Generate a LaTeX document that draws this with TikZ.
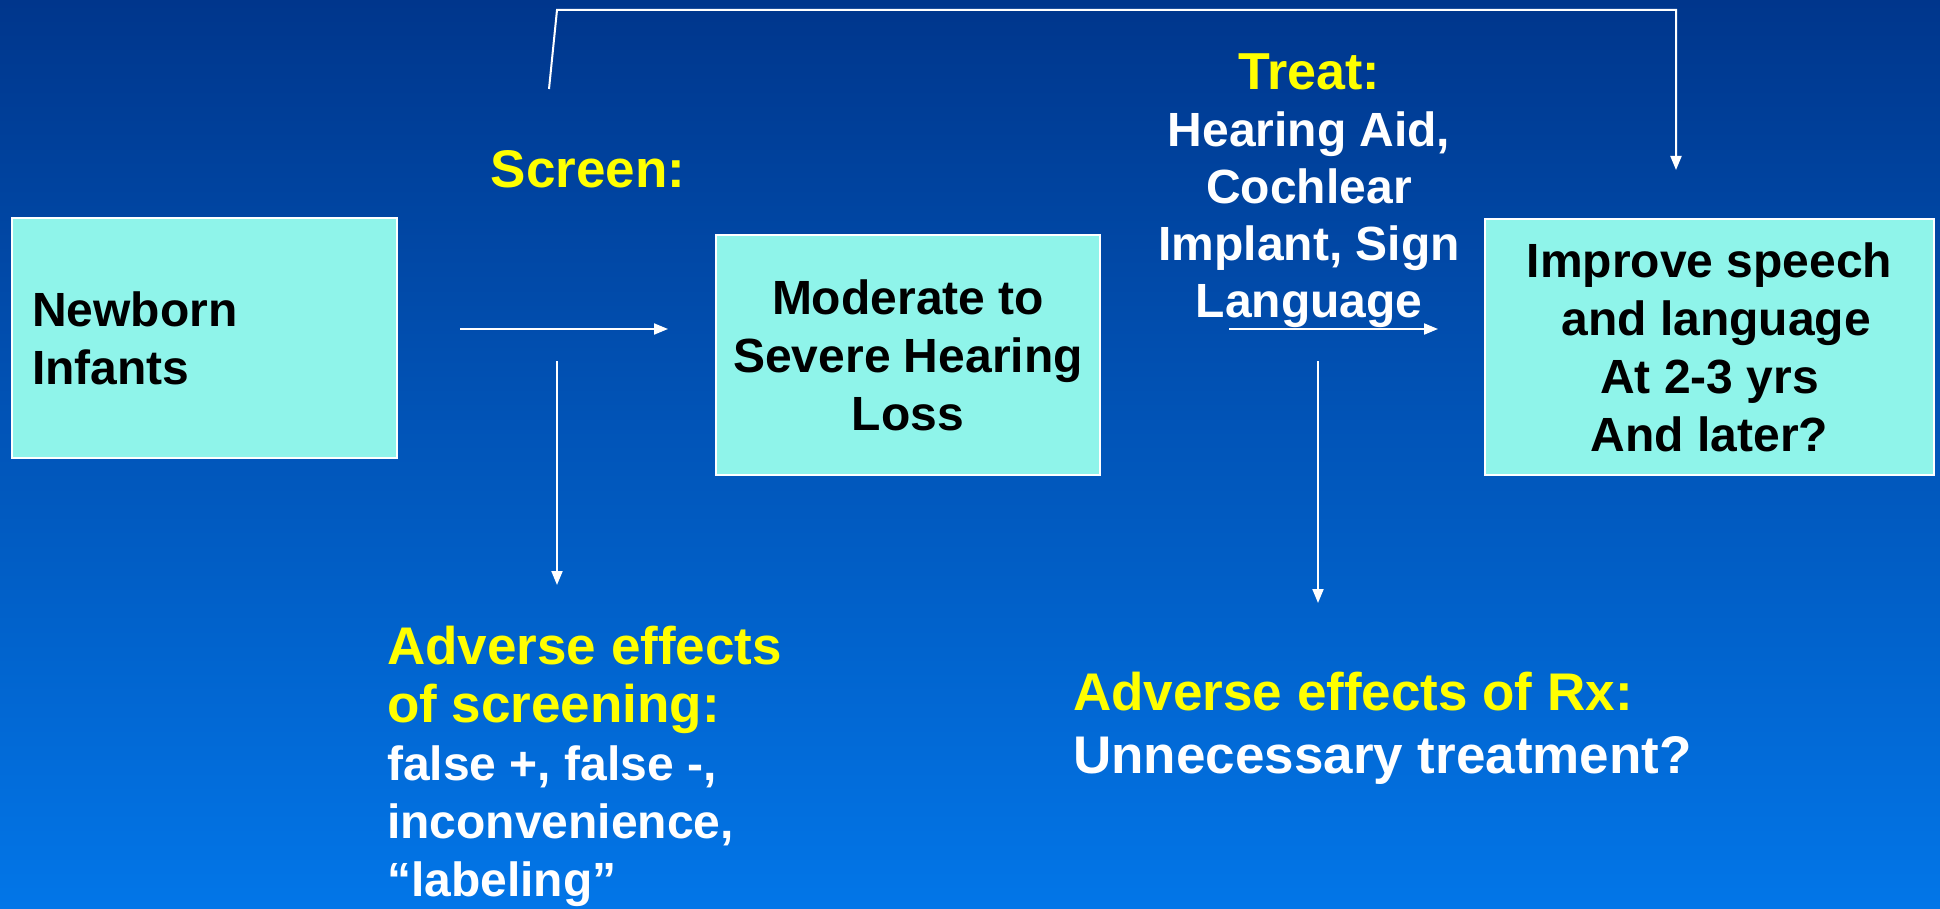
\documentclass[tikz,border=0pt]{standalone}
\usepackage{fontspec}
\setmainfont{Liberation Sans}
\usetikzlibrary{arrows.meta,positioning}
\definecolor{bgtop}{RGB}{0,54,140}
\definecolor{bgbottom}{RGB}{2,118,232}
\definecolor{cbox}{RGB}{143,244,234}
\definecolor{chead}{RGB}{255,255,0}

\begin{document}
\begin{tikzpicture}[x=1pt,y=-1pt,
    stage/.style={draw=white, line width=2pt, fill=cbox, inner sep=0pt, align=center,
      font=\fontsize{48}{58}\selectfont\bfseries},
    note/.style={inner sep=0pt, text=white, font=\fontsize{48}{58}\selectfont\bfseries},
    head/.style={text=chead, font=\fontsize{53}{61}\selectfont\bfseries},
    flow/.style={draw=white, line width=2pt, -{Triangle[length=14pt,width=11pt]}}]
  % background
  \shade[top color=bgtop, bottom color=bgbottom] (0,0) rectangle (1940,909);

  % the three stages
  \node[stage, minimum width=385pt, minimum height=240pt, text width=345pt, align=left]
       (newborn) at (204.5,338) {Newborn\\Infants};
  \node[stage, minimum width=384pt, minimum height=240pt]
       (loss) at (908,355) {Moderate to\\Severe Hearing\\Loss};
  \node[stage, minimum width=449pt, minimum height=255pt]
       (speech) at (1709.5,347) {Improve speech\\\ and language\\At 2-3 yrs\\And later?};

  % labels
  \node[note, head] (screen) at (588,169) {Screen:};
  \node[note, align=center, font=\fontsize{48}{57}\selectfont\bfseries] (treat) at (1309,191)
       {{\color{chead}\fontsize{52}{57}\selectfont Treat:}\\Hearing Aid,\\Cochlear\\Implant, Sign\\Language};
  \node[note, align=left, anchor=west] (harmscreen) at (387,766)
       {{\color{chead}\fontsize{53}{61}\selectfont Adverse effects}\\
        {\color{chead}\fontsize{53}{61}\selectfont of screening:}\\
        false +, false -,\\inconvenience,\\“labeling”};
  \node[note, align=left, anchor=west, font=\fontsize{53}{63}\selectfont\bfseries] (harmrx) at (1073,728.5)
       {{\color{chead}Adverse effects of Rx:}\\Unnecessary treatment?};

  % connector ends
  \coordinate (s1) at (460,329);
  \coordinate (e1) at (668,329);
  \coordinate (s2) at (1229,329);
  \coordinate (e2) at (1438,329);
  \coordinate (d1) at (557,361);
  \coordinate (f1) at (557,585);
  \coordinate (d2) at (1318,361);
  \coordinate (f2) at (1318,603);
  \coordinate (t0) at (549,89);
  \coordinate (t1) at (557,10);
  \coordinate (t2) at (1676,10);
  \coordinate (t3) at (1676,170);

  % connectors
  \draw[flow] (s1) -- (e1);
  \draw[flow] (s2) -- (e2);
  \draw[flow] (d1) -- (f1);
  \draw[flow] (d2) -- (f2);
  \draw[flow] (t0) -- (t1) -- (t2) -- (t3);
\end{tikzpicture}
\end{document}
